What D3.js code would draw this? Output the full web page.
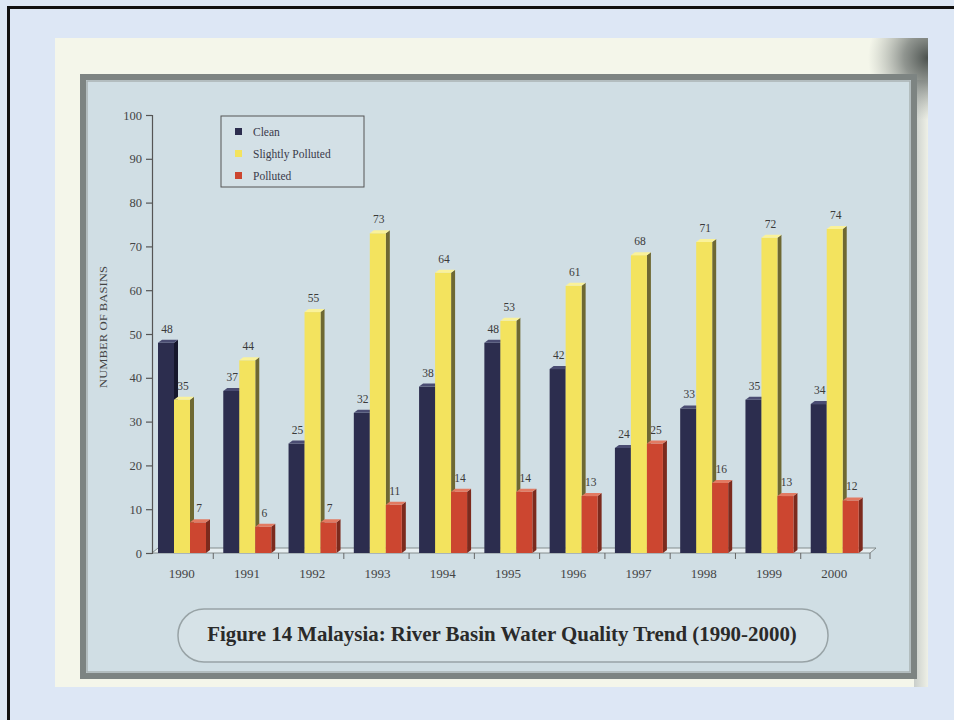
<!DOCTYPE html>
<html>
<head>
<meta charset="utf-8">
<script src="https://cdn.jsdelivr.net/npm/d3@7"></script>
<style>
  html, body { margin: 0; padding: 0; background: #dde7f5; }
  svg { display: block; }
</style>
</head>
<body>
<svg id="chart" width="954" height="720"></svg>
<script>
// River basin water quality counts, 1990-2000
const years = ["1990","1991","1992","1993","1994","1995","1996","1997","1998","1999","2000"];
const series = ["Clean", "Slightly Polluted", "Polluted"];
const clean = [48, 37, 25, 32, 38, 48, 42, 24, 33, 35, 34];
const slightlyPolluted = [35, 44, 55, 73, 64, 53, 61, 68, 71, 72, 74];
const polluted = [7, 6, 7, 11, 14, 14, 13, 25, 16, 13, 12];
const yTicks = [0, 10, 20, 30, 40, 50, 60, 70, 80, 90, 100];
const titleText = "Figure 14 Malaysia: River Basin Water Quality Trend (1990-2000)";
const yTitle = "NUMBER OF BASINS";

const values = { "Clean": clean, "Slightly Polluted": slightlyPolluted, "Polluted": polluted };
const colors = {
  "Clean": { front: "#2c2d4e", side: "#16172c", top: "#4a4c72" },
  "Slightly Polluted": { front: "#f3e35e", side: "#6e6832", top: "#faf29a" },
  "Polluted": { front: "#cc4630", side: "#7c2a1d", top: "#e27a62" }
};

const svg = d3.select("#chart");
const serif = "'Liberation Serif', 'DejaVu Serif', serif";

// page background and frame lines
svg.append("rect").attr("x", 0).attr("y", 0).attr("width", 954).attr("height", 720).attr("fill", "#dde7f5");
svg.append("path").attr("d", "M8.5,720 L8.5,7.5 L954,7.5")
  .attr("fill", "none").attr("stroke", "#111").attr("stroke-width", 3);

// paper sheet, with a shadow falling on its top right corner
const defs = svg.append("defs");
defs.append("clipPath").attr("id", "paperClip")
  .append("rect").attr("x", 55).attr("y", 38).attr("width", 873).attr("height", 649);
const shade = defs.append("radialGradient").attr("id", "cornerShade")
  .attr("cx", 0.5).attr("cy", 0.5).attr("r", 0.5);
shade.append("stop").attr("offset", "0%").attr("stop-color", "#4b514e").attr("stop-opacity", 1);
shade.append("stop").attr("offset", "40%").attr("stop-color", "#6f7572").attr("stop-opacity", 0.75);
shade.append("stop").attr("offset", "100%").attr("stop-color", "#a0a6a2").attr("stop-opacity", 0);
const edge = defs.append("linearGradient").attr("id", "rightEdge").attr("x1", 0).attr("x2", 1);
edge.append("stop").attr("offset", "0%").attr("stop-color", "#c9ceca");
edge.append("stop").attr("offset", "100%").attr("stop-color", "#eef0e6");

const paper = svg.append("g").attr("clip-path", "url(#paperClip)");
paper.append("rect").attr("x", 55).attr("y", 38).attr("width", 873).attr("height", 649).attr("fill", "#f4f6ea");
paper.append("rect").attr("x", 914).attr("y", 80).attr("width", 14).attr("height", 607).attr("fill", "url(#rightEdge)");
paper.append("ellipse").attr("cx", 928).attr("cy", 58).attr("rx", 60).attr("ry", 62).attr("fill", "url(#cornerShade)");

// chart panel with grey frame
svg.append("rect").attr("x", 83).attr("y", 77).attr("width", 831).attr("height", 599)
  .attr("fill", "#d0dee4").attr("stroke", "#7d8482").attr("stroke-width", 6);
svg.append("rect").attr("x", 87).attr("y", 81).attr("width", 823).attr("height", 591)
  .attr("fill", "none").attr("stroke", "#a9b2b2").attr("stroke-width", 1.5);

// scales
const x = d3.scaleBand().domain(years).range([152, 870]).paddingInner(0).paddingOuter(0);
const xs = d3.scaleBand().domain(series).range([6, 54]).padding(0);
const y = d3.scaleLinear().domain([0, 100]).range([553, 115]);
const depth = 4, rise = 3;

// floor under the bars
const y0 = y(0);
svg.append("path")
  .attr("d", `M${x.range()[0]},${y0} L${x.range()[1]},${y0} L${x.range()[1] + 6},${y0 - 5} L${x.range()[0] + 6},${y0 - 5} Z`)
  .attr("fill", "#e6eef1").attr("stroke", "#6f7777").attr("stroke-width", 0.8);

// y axis
const yAxis = d3.axisLeft(y).tickValues(yTicks).tickSize(6).tickPadding(4);
const gy = svg.append("g").attr("transform", "translate(152,0)").call(yAxis);
gy.select(".domain").attr("stroke", "#555").attr("stroke-width", 1.2);
gy.selectAll(".tick line").attr("stroke", "#555").attr("stroke-width", 1.2);
gy.selectAll(".tick text").attr("fill", "#444").style("font-family", serif).style("font-size", "12.5px");

// y axis title
svg.append("text")
  .attr("transform", "translate(107,327) rotate(-90)")
  .attr("text-anchor", "middle")
  .attr("fill", "#444")
  .attr("textLength", 122).attr("lengthAdjust", "spacingAndGlyphs")
  .style("font-family", serif).style("font-size", "11px")
  .text(yTitle);

// x axis ticks and labels
const gx = svg.append("g").attr("transform", `translate(0,${y0})`);
gx.selectAll("line.sep").data(years.slice(1).concat(["end"])).join("line")
  .attr("class", "sep")
  .attr("x1", d => d === "end" ? x.range()[1] : x(d) - 4)
  .attr("x2", d => d === "end" ? x.range()[1] : x(d) - 4)
  .attr("y1", 0).attr("y2", 6)
  .attr("stroke", "#666").attr("stroke-width", 1);
gx.selectAll("text.year").data(years).join("text")
  .attr("class", "year")
  .attr("x", d => x(d) + x.bandwidth() / 2 - 3)
  .attr("y", 25)
  .attr("text-anchor", "middle")
  .attr("fill", "#444")
  .style("font-family", serif).style("font-size", "13px")
  .text(d => d);

// bars with a simple extruded look
const barW = xs.bandwidth();
series.forEach(s => {
  const g = svg.append("g").attr("class", "series");
  const data = years.map((yr, i) => ({ yr, v: values[s][i] }));
  const bx = d => x(d.yr) + xs(s);
  // right side face
  g.selectAll("path.side").data(data).join("path")
    .attr("class", "side")
    .attr("d", d => {
      const l = bx(d) + barW, t = y(d.v);
      return `M${l},${y0} L${l},${t} L${l + depth},${t - rise} L${l + depth},${y0 - rise} Z`;
    })
    .attr("fill", colors[s].side);
  // front face
  g.selectAll("rect.front").data(data).join("rect")
    .attr("class", "front")
    .attr("x", bx)
    .attr("y", d => y(d.v))
    .attr("width", barW)
    .attr("height", d => y0 - y(d.v))
    .attr("fill", colors[s].front);
  // top face
  g.selectAll("path.top").data(data).join("path")
    .attr("class", "top")
    .attr("d", d => {
      const l = bx(d), t = y(d.v);
      return `M${l},${t} L${l + barW},${t} L${l + barW + depth},${t - rise} L${l + depth},${t - rise} Z`;
    })
    .attr("fill", colors[s].top);
  // value labels
  g.selectAll("text.val").data(data).join("text")
    .attr("class", "val")
    .attr("x", d => bx(d) + barW / 2 + 1)
    .attr("y", d => y(d.v) - 10)
    .attr("text-anchor", "middle")
    .attr("fill", "#3a3a3a")
    .style("font-family", serif).style("font-size", "11.5px")
    .text(d => d.v);
});

// legend
const lg = svg.append("g").attr("transform", "translate(221,116)");
lg.append("rect").attr("width", 143).attr("height", 71)
  .attr("fill", "#d3e0e6").attr("stroke", "#555").attr("stroke-width", 1);
series.forEach((s, i) => {
  lg.append("rect").attr("x", 14).attr("y", 12 + i * 22).attr("width", 7).attr("height", 7)
    .attr("fill", colors[s].front);
  lg.append("text").attr("x", 32).attr("y", 20 + i * 22)
    .attr("fill", "#3a3a4a")
    .style("font-family", serif).style("font-size", "11.5px")
    .text(s);
});

// figure caption in a rounded box
svg.append("rect").attr("x", 178).attr("y", 609).attr("width", 650).attr("height", 53)
  .attr("rx", 26).attr("ry", 26)
  .attr("fill", "#d6e2e7").attr("stroke", "#98a3a6").attr("stroke-width", 1.5);
const cap = svg.append("text")
  .attr("x", 502).attr("y", 641)
  .attr("text-anchor", "middle")
  .attr("fill", "#2a2a2a")
  .style("font-family", serif).style("font-weight", "bold").style("font-size", "16px")
  .text(titleText);
const capW = cap.node().getComputedTextLength();
cap.style("font-size", (16 * 590 / capW).toFixed(2) + "px");
</script>
</body>
</html>
